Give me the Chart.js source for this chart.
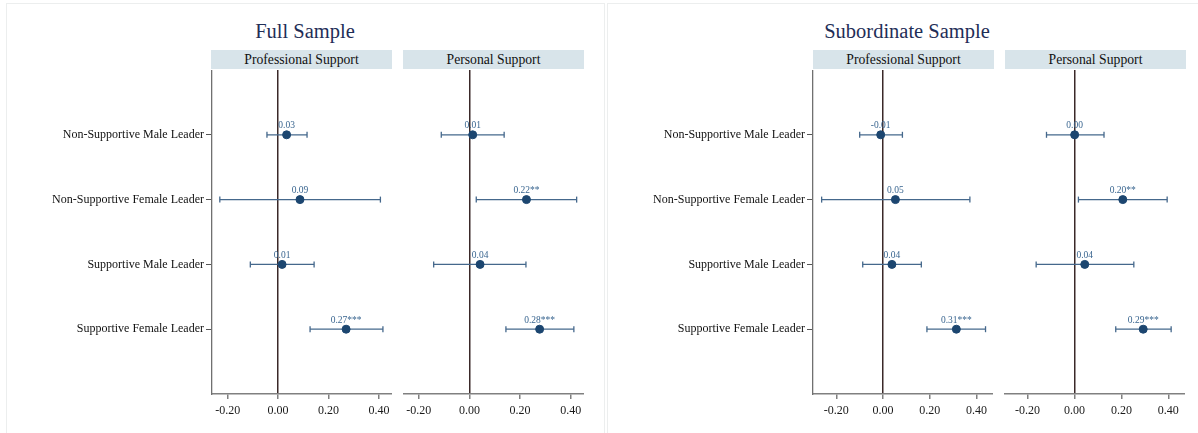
<!DOCTYPE html>
<html lang="en">
<head>
<meta charset="UTF-8">
<title>Leader support coefficients</title>
<script src="https://cdn.jsdelivr.net/npm/chart.js@4/dist/chart.umd.min.js"></script>
<style>
  body { margin: 0; background: #fff; width: 1198px; height: 433px; overflow: hidden; position: relative; font-family: "Liberation Serif", serif; }
  .frame { position: absolute; border: 1px solid #eceeee; box-sizing: border-box; }
  .title { position: absolute; top: 19px; font-size: 20.5px; color: #1f2e57; text-align: center; line-height: 24px; }
  .band { position: absolute; top: 50px; height: 19px; background: #d8e4ea; font-size: 13.7px; color: #111; text-align: center; line-height: 19px; }
  canvas { position: absolute; }
</style>
</head>
<body>
<div class="frame" style="left:6px;top:3px;width:599px;height:440px"></div>
<div class="frame" style="left:607px;top:3px;width:600px;height:440px"></div>

<div class="title" style="left:6px;width:598px">Full Sample</div>
<div class="title" style="left:607px;width:600px">Subordinate Sample</div>

<div class="band" style="left:211px;width:181px">Professional Support</div>
<div class="band" style="left:403px;width:181px">Personal Support</div>
<div class="band" style="left:813px;width:181px">Professional Support</div>
<div class="band" style="left:1005px;width:181px">Personal Support</div>

<canvas id="fullProf" width="386" height="360" style="left:6px;top:70px"></canvas>
<canvas id="fullPers" width="181" height="360" style="left:403px;top:70px"></canvas>
<canvas id="subProf" width="386" height="360" style="left:607px;top:70px"></canvas>
<canvas id="subPers" width="181" height="360" style="left:1004px;top:70px"></canvas>

<script>
const categories = ['Non-Supportive Male Leader', 'Non-Supportive Female Leader', 'Supportive Male Leader', 'Supportive Female Leader'];
const xTicks = [-0.2, 0, 0.2, 0.4];
const xRangeFull = [-0.262, 0.452];
const xRangeSub = [-0.300, 0.471];

// Full sample
const fullProfEst = [0.034, 0.087, 0.016, 0.270];
const fullProfLo = [-0.044, -0.231, -0.110, 0.127];
const fullProfHi = [0.115, 0.406, 0.143, 0.416];
const fullProfText = ['0.03', '0.09', '0.01', '0.27***'];

const fullPersEst = [0.013, 0.225, 0.042, 0.277];
const fullPersLo = [-0.111, 0.027, -0.141, 0.144];
const fullPersHi = [0.137, 0.423, 0.223, 0.412];
const fullPersText = ['0.01', '0.22**', '0.04', '0.28***'];

// Subordinate sample
const subProfEst = [-0.010, 0.053, 0.038, 0.314];
const subProfLo = [-0.100, -0.263, -0.087, 0.188];
const subProfHi = [0.083, 0.372, 0.164, 0.439];
const subProfText = ['-0.01', '0.05', '0.04', '0.31***'];

const subPersEst = [0.001, 0.206, 0.044, 0.293];
const subPersLo = [-0.119, 0.017, -0.163, 0.176];
const subPersHi = [0.126, 0.395, 0.253, 0.412];
const subPersText = ['0.00', '0.20**', '0.04', '0.29***'];

const serif = 'Liberation Serif';
const pointColor = '#1c4670';
const barColor = '#45688c';
const textColor = '#3a6690';

// writes the coefficient label above each point
const pointLabels = {
    id: 'pointLabels',
    afterDatasetsDraw(chart, args, opts) {
        const meta = chart.getDatasetMeta(0);
        const ctx = chart.ctx;
        ctx.save();
        ctx.font = '9.5px "' + serif + '"';
        ctx.fillStyle = textColor;
        ctx.textAlign = 'center';
        ctx.textBaseline = 'alphabetic';
        meta.data.forEach((pt, i) => {
            ctx.fillText(opts.texts[i], pt.x, pt.y - 6.5);
        });
        ctx.restore();
    }
};

function makePanel(id, est, lo, hi, texts, range, showLabels) {
    const datasets = [{
        data: est.map((v, i) => ({x: v, y: i + 1})),
        backgroundColor: pointColor,
        borderColor: pointColor,
        pointRadius: 4,
        order: 0
    }];
    for (let i = 0; i < est.length; i++) {
        datasets.push({
            data: [{x: lo[i], y: i + 1}, {x: hi[i], y: i + 1}],
            showLine: true,
            borderColor: barColor,
            borderWidth: 1.3,
            pointStyle: 'line',
            rotation: 90,
            pointRadius: 3,
            pointBorderColor: barColor,
            pointBorderWidth: 1.3,
            order: 1
        });
    }

    new Chart(id, {
        type: 'scatter',
        data: { datasets: datasets },
        plugins: [pointLabels],
        options: {
            responsive: false,
            animation: false,
            layout: { padding: 0, autoPadding: false },
            plugins: {
                legend: { display: false },
                tooltip: { enabled: false },
                pointLabels: { texts: texts }
            },
            scales: {
                x: {
                    type: 'linear',
                    min: range[0],
                    max: range[1],
                    afterBuildTicks: s => { s.ticks = xTicks.map(v => ({value: v})); },
                    afterFit: s => { s.height = 36; s.paddingLeft = 0; s.paddingRight = 0; },
                    border: { display: true, color: '#808080', width: 1.5 },
                    grid: {
                        drawOnChartArea: true,
                        color: c => (c.tick && c.tick.value === 0) ? '#3a2929' : 'rgba(0,0,0,0)',
                        lineWidth: 1.5,
                        tickColor: '#808080',
                        tickLength: 5
                    },
                    ticks: {
                        padding: 5,
                        color: '#1a1a1a',
                        font: { family: serif, size: 12 },
                        callback: v => v.toFixed(2)
                    }
                },
                y: {
                    type: 'linear',
                    display: showLabels,
                    reverse: true,
                    min: 0,
                    max: 5,
                    afterBuildTicks: s => { s.ticks = categories.map((c, i) => ({value: i + 1})); },
                    afterFit: s => { s.width = showLabels ? 206 : 0; s.paddingTop = 0; s.paddingBottom = 0; },
                    border: { display: true, color: '#707070', width: 1.3 },
                    grid: {
                        drawOnChartArea: false,
                        tickColor: '#555',
                        tickLength: 6,
                        lineWidth: 1
                    },
                    ticks: {
                        padding: 2,
                        color: '#111',
                        font: { family: serif, size: 12 },
                        callback: v => categories[v - 1]
                    }
                }
            }
        }
    });
}

makePanel('fullProf', fullProfEst, fullProfLo, fullProfHi, fullProfText, xRangeFull, true);
makePanel('fullPers', fullPersEst, fullPersLo, fullPersHi, fullPersText, xRangeFull, false);
makePanel('subProf', subProfEst, subProfLo, subProfHi, subProfText, xRangeSub, true);
makePanel('subPers', subPersEst, subPersLo, subPersHi, subPersText, xRangeSub, false);
</script>
</body>
</html>
